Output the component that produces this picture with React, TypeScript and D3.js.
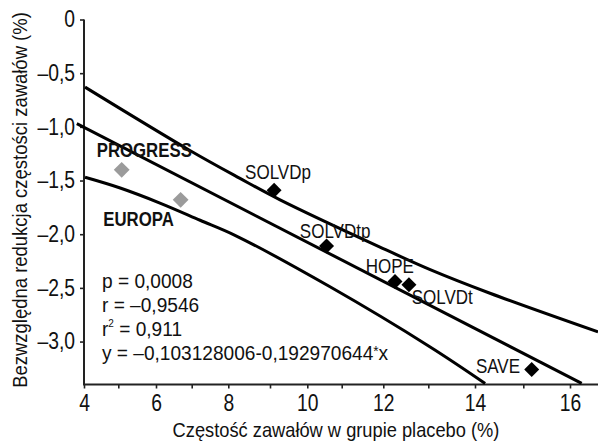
import React, { useEffect, useRef } from "react";
import * as d3 from "d3";

// trials: placebo event rate (%) vs absolute reduction (%)
const trialNames = ["PROGRESS", "EUROPA", "SOLVDp", "SOLVDtp", "HOPE", "SOLVDt", "SAVE"];
const placeboRate = [5.09, 6.69, 9.11, 10.56, 12.26, 12.57, 15.18];
const absReduction = [-1.4, -1.68, -1.59, -2.11, -2.44, -2.47, -3.26];
const greyTrials = ["PROGRESS", "EUROPA"];

// regression line and confidence band
const fitX = [3.79, 16.25];
const fitY = [-0.97, -3.39];
const upperX = [4.03, 6.95, 8.28, 9.27, 11.92, 13.04, 14.31, 16.6];
const upperY = [-0.63, -1.22, -1.48, -1.68, -2.12, -2.33, -2.55, -2.91];
const lowerX = [4.03, 5.05, 6.11, 7.23, 8.16, 10.66, 13.04, 14.21];
const lowerY = [-1.47, -1.57, -1.71, -1.87, -2.01, -2.49, -3.05, -3.39];

const xTickValues = d3.range(4, 17);
const xTickLabels = [4, 6, 8, 10, 12, 14, 16];
const yTickValues = [0, -0.5, -1, -1.5, -2, -2.5, -3];

const statLines = ["p = 0,0008", "r = \u20130,9546", "r2 = 0,911", "y = \u20130,103128006-0,192970644*x"];

const xTitle = "Częstość zawałów w grupie placebo (%)";
const yTitle = "Bezwzględna redukcja częstości zawałów (%)";

// no condensed font installed: squeeze Liberation Sans horizontally
const FONT = '"Liberation Sans", Arial, sans-serif';

const W = 598;
const H = 448;

const App = () => {
  const svgEl = useRef<SVGSVGElement>(null);

  useEffect(() => {
    if (!svgEl.current) return;
    drawChartOn(svgEl.current);
  }, []);

  return (
    <svg
      ref={svgEl}
      width={W}
      height={H}
      style={{ position: "absolute", left: 0, top: 0, background: "#fff" }}
    ></svg>
  );
};

function addText(parent: any, x: number, y: number, str: string, size: number, sx: number, anchor = "start", extra = "") {
  return parent
    .append("text")
    .attr("transform", "translate(" + x + "," + y + ")" + extra + " scale(" + sx + ",1)")
    .attr("text-anchor", anchor)
    .attr("font-family", FONT)
    .attr("font-size", size)
    .attr("fill", "#111")
    .text(str);
}

function drawChartOn(svgEl: SVGSVGElement) {
  const svg = d3.select(svgEl);
  svg.selectAll("*").remove();

  // the printed x axis is not evenly spaced, so map each integer tick
  const x = d3
    .scaleLinear()
    .domain(xTickValues)
    .range([84, 118.3, 156, 191.7, 228.3, 270, 307.3, 341.7, 383.3, 428.3, 475, 523.3, 570]);
  const y = d3.scaleLinear().domain([-3.4, 0]).range([384.5, 19.5]);

  const x0 = x(4);
  const yBase = y(-3.4);
  const tickSx = 0.84;

  // x axis
  const xAxis = svg
    .append("g")
    .attr("transform", "translate(0," + yBase + ")")
    .call(
      d3
        .axisBottom(x)
        .tickValues(xTickValues)
        .tickSize(4)
        .tickSizeOuter(0)
        .tickPadding(6)
        .tickFormat((d: any) => (xTickLabels.includes(+d) ? String(d) : ""))
    );
  xAxis.select(".domain").remove();
  xAxis.selectAll("line").attr("stroke", "#222").attr("stroke-width", 1.6);
  xAxis
    .selectAll("text")
    .attr("font-family", FONT)
    .attr("font-size", 23)
    .attr("fill", "#111")
    .attr("transform", "scale(" + tickSx + ",1)");
  svg
    .append("line")
    .attr("x1", x0)
    .attr("x2", W)
    .attr("y1", yBase)
    .attr("y2", yBase)
    .attr("stroke", "#222")
    .attr("stroke-width", 2);

  // y axis
  const yAxis = svg
    .append("g")
    .attr("transform", "translate(" + x0 + ",0)")
    .call(
      d3
        .axisLeft(y)
        .tickValues(yTickValues)
        .tickSize(4)
        .tickSizeOuter(0)
        .tickPadding(5)
        .tickFormat((d: any) =>
          +d === 0 ? "0" : "\u2013" + Math.abs(+d).toFixed(1).replace(".", ",")
        )
    );
  yAxis.select(".domain").remove();
  yAxis.selectAll("line").attr("stroke", "#222").attr("stroke-width", 1.6);
  yAxis
    .selectAll("text")
    .attr("font-family", FONT)
    .attr("font-size", 23)
    .attr("fill", "#111")
    .attr("x", -9 / tickSx)
    .attr("transform", "scale(" + tickSx + ",1)");
  svg
    .append("line")
    .attr("x1", x0)
    .attr("x2", x0)
    .attr("y1", y(0))
    .attr("y2", yBase + 1)
    .attr("stroke", "#222")
    .attr("stroke-width", 2);

  // lines
  const line = d3
    .line<[number, number]>()
    .x((d) => x(d[0]))
    .y((d) => y(d[1]))
    .curve(d3.curveCatmullRom.alpha(0.5));

  const series = [
    d3.zip(fitX, fitY),
    d3.zip(upperX, upperY),
    d3.zip(lowerX, lowerY),
  ];
  svg
    .append("g")
    .selectAll("path")
    .data(series)
    .join("path")
    .attr("fill", "none")
    .attr("stroke", "#000")
    .attr("stroke-width", 3)
    .attr("d", (d: any) => line(d));

  // points
  const pts = trialNames.map((name, i) => ({
    name,
    px: x(placeboRate[i]),
    py: y(absReduction[i]),
    grey: greyTrials.includes(name),
  }));
  svg
    .append("g")
    .selectAll("path")
    .data(pts)
    .join("path")
    .attr("transform", (d) => "translate(" + d.px + "," + d.py + ") rotate(45)")
    .attr("d", (d) => d3.symbol().type(d3.symbolSquare).size(d.grey ? 125 : 112)() as string)
    .attr("fill", (d) => (d.grey ? "#9b9b9b" : "#000"));

  // labels, offsets in pixels from each point
  const labelOffset: Record<string, [number, number, string]> = {
    PROGRESS: [-25, -12.7, "start"],
    EUROPA: [-77.4, 26, "start"],
    SOLVDp: [-29, -10.7, "start"],
    SOLVDtp: [-26.7, -7.7, "start"],
    HOPE: [-29.3, -8.4, "start"],
    SOLVDt: [2.7, 19, "start"],
    SAVE: [-11.7, 3.3, "end"],
  };
  const labels = svg.append("g");
  pts.forEach((d) => {
    const [dx, dy, anchor] = labelOffset[d.name];
    addText(labels, d.px + dx, d.py + dy, d.name, 20, d.grey ? 0.84 : 0.85, anchor).attr(
      "font-weight",
      d.grey ? "bold" : "normal"
    );
  });

  // statistics block
  const stats = svg.append("g");
  statLines.forEach((s, i) => {
    const t = addText(stats, 102, 288 + i * 24, "", 21, 0.91);
    if (s.startsWith("r2")) {
      t.append("tspan").text("r");
      t.append("tspan").attr("font-size", 11).attr("dy", -9).text("2");
      t.append("tspan").attr("dy", 9).text(s.slice(2));
    } else if (s.endsWith("*x")) {
      t.append("tspan").text(s.slice(0, -2));
      t.append("tspan").attr("font-size", 15).attr("dy", -4).text("*");
      t.append("tspan").attr("dy", 4).text("x");
    } else {
      t.text(s);
    }
  });

  // axis titles
  addText(svg, 336, 437, xTitle, 21, 0.87, "middle");
  addText(svg, 27, 200, yTitle, 21, 0.88, "middle", " rotate(-90)");
}

export default App;
